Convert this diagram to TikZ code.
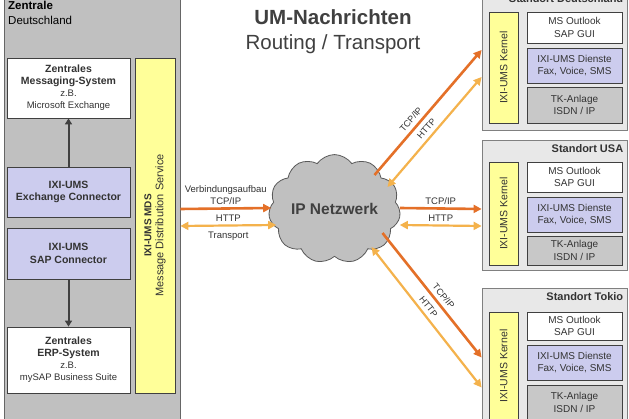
\documentclass[tikz,border=0pt]{standalone}
\usepackage{fontspec}
\setmainfont{Liberation Sans}
\usetikzlibrary{shapes.symbols, arrows.meta, positioning, calc}

\definecolor{panelgray}{RGB}{192,192,192}
\definecolor{sitegray}{RGB}{232,232,232}
\definecolor{tkgray}{RGB}{200,200,200}
\definecolor{lavender}{RGB}{204,204,238}
\definecolor{kernelyellow}{RGB}{255,255,153}
\definecolor{tcporange}{RGB}{228,112,40}
\definecolor{httporange}{RGB}{244,178,76}
\definecolor{textgray}{RGB}{51,51,51}
\definecolor{cloudgray}{RGB}{192,192,192}

\begin{document}
\begin{tikzpicture}[
    x=1pt, y=-1pt,
    font=\fontsize{9.5}{12}\selectfont, text=textgray,
    panel/.style={draw=black!60, line width=0.8pt, fill=panelgray},
    box/.style={draw=black!75, line width=0.8pt, rectangle, minimum width=123pt, inner sep=0pt, align=center, fill=white},
    connbox/.style={box, fill=lavender, font=\bfseries\fontsize{10.5}{12.5}\selectfont},
    mdsbox/.style={draw=black!75, line width=0.8pt, fill=kernelyellow, rotate=90, minimum width=335pt, minimum height=40pt, inner sep=0pt, align=center},
    sitebox/.style={draw=gray, line width=0.8pt, fill=sitegray, minimum width=145pt, inner sep=0pt},
    sitehead/.style={anchor=east, inner sep=0pt, font=\bfseries\fontsize{11}{13}\selectfont},
    kernel/.style={draw=black!75, line width=0.8pt, fill=kernelyellow, rotate=90, minimum height=29pt, inner sep=0pt, font=\fontsize{10.5}{12}\selectfont},
    infobox/.style={draw=black!75, line width=0.8pt, minimum width=95pt, inner sep=0pt, align=center, fill=white, font=\fontsize{10}{12.5}\selectfont},
    svcbox/.style={infobox, fill=lavender},
    tkbox/.style={infobox, fill=tkgray},
    netcloud/.style={cloud, cloud puffs=11, cloud puff arc=110, aspect=1.3, draw=gray!70!black, fill=cloudgray, line width=0.8pt, minimum width=110pt, minimum height=84pt, inner sep=0pt, font=\bfseries\fontsize{15.5}{18}\selectfont, text=black!75},
    tcp/.style={draw=tcporange, line width=2.6pt, -{Triangle[length=8pt,width=8pt]}},
    http/.style={draw=httporange, line width=2.2pt, {Triangle[length=8pt,width=8pt]}-{Triangle[length=8pt,width=8pt]}},
    link/.style={draw=black!75, line width=2pt, -{Triangle[length=6pt,width=7pt]}},
    proto/.style={font=\fontsize{9.5}{12}\selectfont, inner sep=2.5pt, align=center},
    diagproto/.style={proto, font=\fontsize{9}{11}\selectfont, inner sep=4pt}
]
\clip (0,0) rectangle (629,419);
\fill[white] (0,0) rectangle (629,419);

% Zentrale
\node[panel, minimum width=176pt, minimum height=430pt] (zentrale) at (92,210) {};
\node[anchor=north west, align=left, inner sep=0pt, font=\fontsize{11.5}{15}\selectfont, text=black] (zentraletitle) at (8,0.5) {\textbf{Zentrale}\\Deutschland};

\node[box, minimum height=60pt] (messaging) at (68.5,88) {\textbf{\fontsize{10.5}{12}\selectfont Zentrales}\\\textbf{\fontsize{10.5}{12}\selectfont Messaging-System}\\z.B.\\Microsoft Exchange};
\node[connbox, minimum height=50pt] (exchange) at (68.5,192) {IXI-UMS\\Exchange Connector};
\node[connbox, minimum height=51pt] (sap) at (68.5,253.5) {IXI-UMS\\SAP Connector};
\node[box, minimum height=66pt] (erp) at (68.5,360) {\textbf{\fontsize{10.5}{12}\selectfont Zentrales}\\\textbf{\fontsize{10.5}{12}\selectfont ERP-System}\\z.B.\\mySAP Business Suite};
\node[mdsbox] (mds) at (155,225.5) {\textbf{\fontsize{10}{13}\selectfont IXI-UMS MDS}\\\fontsize{11}{13}\selectfont Message Distribution Service};

\draw[link] (exchange) -- (messaging);
\draw[link] (sap) -- (erp);

% Title
\node[align=center, font=\fontsize{20.5}{25}\selectfont, text=black!75] (title) at (333,32) {\textbf{UM-Nachrichten}\\Routing / Transport};

% Cloud
\node[netcloud] (cloud) at (334.5,209) {IP Netzwerk};

% Standort Deutschland
\node[sitebox, minimum height=140pt] (siteDE) at (554.5,60) {};
\node[sitehead] (headDE) at ([shift={(-4pt,-9pt)}]siteDE.north east) {Standort Deutschland};
\node[kernel, minimum width=111pt] (kernelDE) at (503.5,67.5) {IXI-UMS Kernel};
\node[infobox, minimum height=31pt] (outlookDE) at (574.5,27.5) {MS Outlook\\SAP GUI};
\node[svcbox, minimum height=35pt] (svcDE) at (574.5,65.5) {IXI-UMS Dienste\\Fax, Voice, SMS};
\node[tkbox, minimum height=36pt] (tkDE) at (574.5,105) {TK-Anlage\\ISDN / IP};

% Standort USA
\node[sitebox, minimum height=130pt] (siteUSA) at (554.5,205) {};
\node[sitehead] (headUSA) at ([shift={(-4pt,-9pt)}]siteUSA.north east) {Standort USA};
\node[kernel, minimum width=103pt] (kernelUSA) at (503.5,213.5) {IXI-UMS Kernel};
\node[infobox, minimum height=30pt] (outlookUSA) at (574.5,177) {MS Outlook\\SAP GUI};
\node[svcbox, minimum height=35pt] (svcUSA) at (574.5,214.5) {IXI-UMS Dienste\\Fax, Voice, SMS};
\node[tkbox, minimum height=29pt] (tkUSA) at (574.5,250.5) {TK-Anlage\\ISDN / IP};

% Standort Tokio
\node[sitebox, minimum height=137pt] (siteTK) at (554.5,356.5) {};
\node[sitehead] (headTK) at ([shift={(-4pt,-9pt)}]siteTK.north east) {Standort Tokio};
\node[kernel, minimum width=108pt] (kernelTK) at (503.5,366) {IXI-UMS Kernel};
\node[infobox, minimum height=28pt] (outlookTK) at (574.5,326) {MS Outlook\\SAP GUI};
\node[svcbox, minimum height=35pt] (svcTK) at (574.5,362.5) {IXI-UMS Dienste\\Fax, Voice, SMS};
\node[tkbox, minimum height=35pt] (tkTK) at (574.5,402.5) {TK-Anlage\\ISDN / IP};

% Connections
\draw[tcp] ([yshift=1pt]zentrale.east) -- ([shift={(2pt,1pt)}]cloud.west)
    node[proto, midway, above] {Verbindungsaufbau\\TCP/IP};
\draw[http] ([yshift=-16pt]zentrale.east) -- ([shift={(7pt,-16pt)}]cloud.west)
    node[proto, midway, above] {HTTP}
    node[proto, midway, below, yshift=-3pt] {Transport};
\draw[tcp] ([yshift=1pt]cloud.east) -- ([yshift=-4pt]siteUSA.west)
    node[proto, midway, above] {TCP/IP};
\draw[http] ([shift={(0pt,-16pt)}]cloud.east) -- ([yshift=-21pt]siteUSA.west)
    node[proto, midway, above] {HTTP};
\draw[tcp] ([shift={(40pt,34pt)}]cloud.center) -- ([yshift=10pt]siteDE.west)
    node[diagproto, pos=0.4, above, sloped] {TCP/IP};
\draw[http] ([shift={(53pt,22pt)}]cloud.center) -- ([yshift=-17pt]siteDE.west)
    node[diagproto, pos=0.48, above, sloped] {HTTP};
\draw[tcp] ([shift={(48pt,-24pt)}]cloud.center) -- ([yshift=-1pt]siteTK.west)
    node[diagproto, pos=0.55, above, sloped] {TCP/IP};
\draw[http] ([shift={(37pt,-38pt)}]cloud.center) -- ([yshift=-31pt]siteTK.west)
    node[diagproto, pos=0.46, above, sloped] {HTTP};

\end{tikzpicture}
\end{document}
